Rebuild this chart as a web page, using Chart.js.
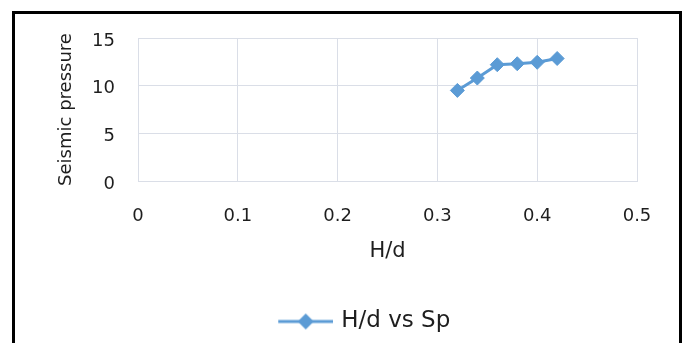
<!DOCTYPE html>
<html>
<head>
<meta charset="utf-8">
<script src="https://cdn.jsdelivr.net/npm/chart.js@4/dist/chart.umd.min.js"></script>
<style>
  html, body { margin: 0; padding: 0; background: #fff; overflow: hidden; }
  #wrap { position: absolute; left: 0; top: 0; width: 688px; height: 343px; }
  #frame {
    position: absolute; left: 12px; top: 11px; width: 670px; height: 400px;
    border: 3px solid #000; box-sizing: border-box; pointer-events: none;
  }
</style>
</head>
<body>
<div id="wrap"><canvas id="chart"></canvas></div>
<div id="frame"></div>
<script>
// values
const hdValues = [0.32, 0.34, 0.36, 0.38, 0.40, 0.42];
const spValues = [9.5, 10.8, 12.2, 12.3, 12.45, 12.85];
const seriesName = "H/d vs Sp";
const xTitle = "H/d";
const yTitle = "Seismic pressure";

const blue = "#5B9BD5";
const gridColor = "#dadee7";
const textColor = "#1e1e1e";
const font = '"DejaVu Sans", sans-serif';

const pad = { top: 38, left: 40, right: 51, bottom: 0 };
const legendSize = 23;

// legend marker: line with a diamond, offset so the item sits where the original did
const makeLegendMarker = () => {
  const m = document.createElement("canvas").getContext("2d");
  m.font = `${legendSize}px ${font}`;
  const textW = m.measureText(seriesName).width;
  const center = (pad.left + (688 - pad.right)) / 2;
  const boxW = Math.round(2 * (341 - center) + textW - legendSize / 2);
  const img = document.createElement("canvas");
  img.width = boxW + legendSize / 2 - 4;
  img.height = 20;
  const c = img.getContext("2d");
  c.strokeStyle = blue;
  c.lineWidth = 3;
  c.beginPath();
  c.moveTo(img.width - 55, 10);
  c.lineTo(img.width, 10);
  c.stroke();
  const dx = img.width - 27.5;
  c.fillStyle = blue;
  c.beginPath();
  c.moveTo(dx - 8, 10);
  c.lineTo(dx, 2);
  c.lineTo(dx + 8, 10);
  c.lineTo(dx, 18);
  c.closePath();
  c.fill();
  return { img, boxW };
};

const marker = makeLegendMarker();

new Chart(document.getElementById("chart"), {
  type: "scatter",
  data: {
    datasets: [{
      label: seriesName,
      data: hdValues.map((x, i) => ({ x, y: spValues[i] })),
      showLine: true,
      borderColor: blue,
      backgroundColor: blue,
      borderWidth: 3,
      pointStyle: "rectRot",
      pointRadius: 7,
      pointBorderWidth: 1,
      pointHoverRadius: 7
    }]
  },
  options: {
    responsive: true,
    maintainAspectRatio: false,
    animation: false,
    layout: { padding: pad },
    plugins: {
      tooltip: { enabled: false },
      legend: {
        position: "bottom",
        labels: {
          usePointStyle: true,
          pointStyleWidth: marker.boxW,
          padding: 45,
          color: textColor,
          font: { family: font, size: legendSize },
          generateLabels: chart =>
            Chart.defaults.plugins.legend.labels.generateLabels(chart)
              .map(l => ({ ...l, pointStyle: marker.img }))
        }
      }
    },
    scales: {
      x: {
        type: "linear",
        min: 0,
        max: 0.5,
        ticks: {
          stepSize: 0.1,
          padding: 25,
          color: textColor,
          font: { family: font, size: 18 }
        },
        grid: { color: gridColor, drawTicks: false },
        border: { color: gridColor },
        title: {
          display: true,
          text: xTitle,
          color: textColor,
          font: { family: font, size: 21 },
          padding: { top: 0, bottom: 1 }
        },
        afterFit: scale => { scale.height = 84; }
      },
      y: {
        min: 0,
        max: 15,
        ticks: {
          stepSize: 5,
          padding: 23,
          labelOffset: 3,
          color: textColor,
          font: { family: font, size: 18 }
        },
        grid: { color: gridColor, drawTicks: false },
        border: { color: gridColor },
        title: {
          display: true,
          text: yTitle,
          color: textColor,
          font: { family: font, size: 18 },
          padding: { top: 16, bottom: 0 }
        },
        afterFit: scale => { scale.width = 98; }
      }
    }
  }
});
</script>
</body>
</html>
